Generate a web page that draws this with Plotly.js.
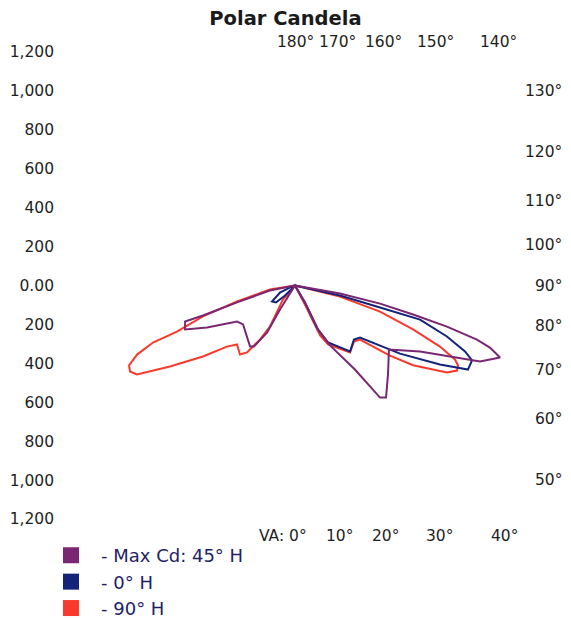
<!DOCTYPE html>
<html>
<head>
<meta charset="utf-8">
<script src="https://cdn.plot.ly/plotly-3.0.1.min.js"></script>
<style>html,body{margin:0;padding:0;background:#fff;}#chart{width:571px;height:618px;}</style>
</head>
<body>
<div id="chart"></div>
<script>
// Candela values, as horizontal / vertical components (cd)
var maxCdX = [0,-129,-298,-473,-565,-565,-452,-298,-267,-252,-231,-211,-144,-77,-10,0,
              51,118,180,308,437,468,478,483,643,833,951,1054,1002,935,781,607,437,231,0];
var maxCdY = [0,-26,-87,-154,-185,-226,-216,-185,-200,-252,-314,-314,-242,-123,-10,0,
              -87,-226,-308,-432,-576,-576,-457,-329,-339,-370,-391,-370,-319,-278,-211,-149,-93,-41,0];

var h0X = [0,-15,-77,-118,-98,-51,0,
           51,118,170,283,303,334,540,745,889,910,874,781,643,437,231,0];
var h0Y = [0,-5,-36,-82,-87,-51,0,
           -87,-226,-293,-339,-278,-267,-350,-406,-432,-385,-339,-262,-175,-113,-51,0];

var h90X = [0,-129,-298,-473,-607,-730,-812,-853,-848,-812,-643,-473,-350,-298,-283,-247,-180,-129,-62,0,
            51,129,170,283,303,334,488,607,781,833,838,822,745,607,437,231,0];
var h90Y = [0,-21,-82,-159,-237,-293,-355,-411,-442,-457,-416,-365,-314,-303,-355,-344,-278,-211,-72,0,
            -98,-257,-303,-344,-288,-278,-360,-410,-447,-437,-411,-380,-314,-226,-134,-57,0];

var seriesNames = ['- Max Cd: 45° H', '- 0° H', '- 90° H'];
var seriesColors = ['#7a2672', '#14237a', '#f83a2c'];

var yTickVals = [1200,1000,800,600,400,200,0,-200,-400,-600,-800,-1000,-1200];
var yTickText = ['1,200','1,000','800','600','400','200','0.00','200','400','600','800','1,000','1,200'];

var topAngles = [180,170,160,150,140];
var rightAngles = [130,120,110,100,90,80,70,60,50];
var bottomAngles = [0,10,20,30,40];

var xRange = [-1208, 1208];
var yRange = [-1200, 1200];
function fx(v){ return (v - xRange[0]) / (xRange[1] - xRange[0]); }
function fy(v){ return (v - yRange[0]) / (yRange[1] - yRange[0]); }

var deg = Math.PI/180;
var txtFont = {family:'DejaVu Sans, Verdana, sans-serif', size:15.5, color:'#1e1e1e'};
var annotations = [];
// top labels along rays
topAngles.forEach(function(a){
  var yy = 1249;
  annotations.push({x: fx(yy*Math.tan((180-a)*deg)), y: fy(yy), xref:'paper', yref:'paper',
    text: a+'°', showarrow:false, xanchor:'center', yanchor:'middle', font: txtFont});
});
// right labels where rays meet right edge
rightAngles.forEach(function(a){
  var xx = 1190;
  annotations.push({x: fx(1385), y: fy(-xx/Math.tan(a*deg)), xref:'paper', yref:'paper',
    text: a+'°', showarrow:false, xanchor:'right', yanchor:'middle', font: txtFont});
});
// bottom labels along rays
bottomAngles.forEach(function(a){
  var yy = -1285;
  var xx = -yy*Math.tan(a*deg);
  if (a === 0) {
    annotations.push({x: fx(xx), y: fy(yy), xref:'paper', yref:'paper', text:'VA: 0°', showarrow:false,
      xanchor:'right', yanchor:'middle', xshift:14, font: txtFont});
  } else {
    annotations.push({x: fx(xx), y: fy(yy), xref:'paper', yref:'paper', text: a+'°', showarrow:false,
      xanchor:'center', yanchor:'middle', font: txtFont});
  }
});

var lineW = 2;
var data = [
  {x:h90X, y:h90Y, mode:'lines', line:{color:seriesColors[2], width:lineW}, showlegend:false, hoverinfo:'skip'},
  {x:h0X, y:h0Y, mode:'lines', line:{color:seriesColors[1], width:lineW}, showlegend:false, hoverinfo:'skip'},
  {x:maxCdX, y:maxCdY, mode:'lines', line:{color:seriesColors[0], width:lineW}, showlegend:false, hoverinfo:'skip'}
];
seriesNames.forEach(function(n, i){
  data.push({x:[null], y:[null], mode:'markers', name:n,
    marker:{symbol:'square', size:18, color:seriesColors[i]}, hoverinfo:'skip'});
});

var layout = {
  width:571, height:618,
  margin:{l:60, r:41, t:52, b:99, autoexpand:false},
  paper_bgcolor:'#fff', plot_bgcolor:'#fff',
  title:{text:'<b>Polar Candela</b>', x:0.5, xanchor:'center', y:0.97, yanchor:'middle',
    font:{family:'DejaVu Sans, Verdana, sans-serif', size:19.5, color:'#1a1a1a'}},
  xaxis:{range:xRange, visible:false, fixedrange:true},
  yaxis:{range:yRange, tickvals:yTickVals, ticktext:yTickText, showgrid:false,
    zeroline:false, showline:false, ticks:'', tickfont:txtFont, ticklabelstandoff:5, fixedrange:true},
  showlegend:true,
  legend:{x:-0.0404, y:0.131, xref:'paper', yref:'container', xanchor:'left', yanchor:'top', orientation:'v',
    font:{family:'DejaVu Sans, Verdana, sans-serif', size:18, color:'#1f2266'},
    itemwidth:50, bgcolor:'rgba(0,0,0,0)', tracegroupgap:0},
  annotations: annotations
};
Plotly.newPlot('chart', data, layout, {displayModeBar:false, staticPlot:true});
</script>
</body>
</html>
